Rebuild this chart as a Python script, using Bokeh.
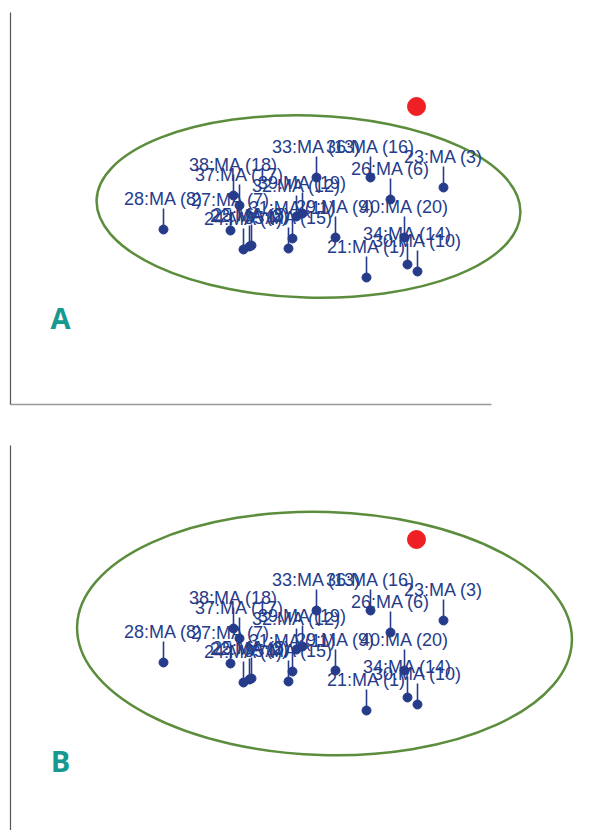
import numpy as np
from bokeh.plotting import figure
from bokeh.layouts import column
from bokeh.models import Range1d, Label, FixedTicker, ColumnDataSource
from bokeh.core.properties import value
from bokeh.embed import file_html
from bokeh.resources import INLINE

# ---- data ----
ids = [21, 22, 23, 24, 25, 26, 27, 28, 29, 30, 31, 32, 33, 34, 35, 36, 37, 38, 39, 40]
ma = [1, 2, 3, 4, 5, 6, 7, 8, 9, 10, 11, 12, 13, 14, 15, 16, 17, 18, 19, 20]
pc1 = [0.66, -0.51, 1.43, -0.57, -0.49, 0.90, -0.70, -1.37, 0.35, 1.17,
       -0.08, -0.04, 0.16, 1.07, -0.12, 0.70, -0.61, -0.67, 0.02, 1.04]
pc2 = [-0.52, -0.21, 0.38, -0.24, -0.20, 0.26, -0.05, -0.04, -0.12, -0.46,
       -0.13, 0.09, 0.48, -0.39, -0.23, 0.48, 0.20, 0.30, 0.12, -0.12]
labels = [f"{i}:MA ({m})" for i, m in zip(ids, ma)]

ref_x = [1.16]
ref_y = [1.19]

# ellipses: center x, center y, width, height, angle (rad)
ellA = [0.08, 0.19, 4.24, 1.82, -0.03]
ellB = [0.24, 0.25, 4.95, 2.43, -0.03]

panel_names = ["A", "B"]

BLUE = "#263c8a"
GREEN = "#5b8d3c"
RED = "#ee2024"
TEAL = "#16998e"

STEM = 0.21

def make_panel(ell, name, top_border, height, bottom_axis, lab_y):
    bb = 20 if bottom_axis else 0
    p = figure(width=580, height=height, output_backend="svg", toolbar_location=None,
               x_range=Range1d(-2.9, 2.8),
               y_range=Range1d(2.13 - (height - top_border - bb) / 100.0, 2.13),
               min_border_left=10, min_border_right=0, min_border_top=top_border,
               min_border_bottom=bb,
               x_axis_location=("below" if bottom_axis else None))
    p.grid.visible = False
    p.outline_line_color = None
    for ax in p.axis:
        ax.ticker = FixedTicker(ticks=[])
        ax.major_tick_out = 0
        ax.major_tick_in = 0
        ax.minor_tick_out = 0
        ax.minor_tick_in = 0
        ax.major_label_standoff = 0
        ax.axis_label_standoff = 0
        ax.major_label_text_font_size = "0px"
    p.yaxis.axis_line_color = "#555555"
    p.yaxis.axis_line_width = 1.2
    if bottom_axis:
        p.xaxis.axis_line_color = "#999999"
        p.xaxis.axis_line_width = 1.5
        p.xaxis.bounds = (-2.9, 1.91)

    p.ellipse(x=[ell[0]], y=[ell[1]], width=[ell[2]], height=[ell[3]], angle=[ell[4]],
              fill_color=None, line_color=GREEN, line_width=2.5)

    src = ColumnDataSource(dict(x=pc1, y=pc2, y1=list(np.array(pc2) + STEM), t=labels))
    p.text(x="x", y="y", text="t", source=src, text_align="center", text_baseline="middle",
           y_offset=-31, text_font_size="18px", text_color=BLUE,
           text_font=value("Liberation Sans"))
    p.segment(x0="x", y0="y", x1="x", y1="y1", source=src, line_color=BLUE, line_width=1.6)
    p.scatter(x="x", y="y", source=src, size=9, fill_color=BLUE, line_color=BLUE)
    p.scatter(x=ref_x, y=ref_y, size=18, fill_color=RED, line_color=RED)

    p.add_layout(Label(x=-2.40, y=lab_y, text=name, text_align="center", text_baseline="middle",
                       text_font_size="29px", text_font_style="bold", text_color=TEAL,
                       text_font="Open Sans"))
    return p

pA = make_panel(ellA, panel_names[0], 12, 424, True, -0.92)
pB = make_panel(ellB, panel_names[1], 21, 406, False, -1.02)

layout = column(pA, pB, spacing=0)
open("out.html", "w").write(file_html(layout, INLINE))
